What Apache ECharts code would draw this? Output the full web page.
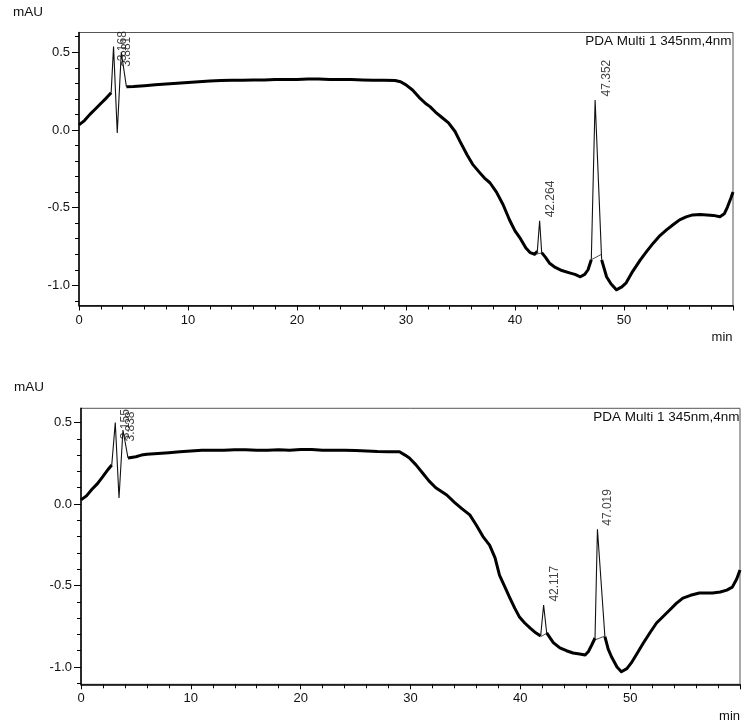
<!DOCTYPE html>
<html><head><meta charset="utf-8">
<script src="https://cdn.jsdelivr.net/npm/echarts@6/dist/echarts.min.js"></script>
<style>html,body{margin:0;padding:0;background:#fff}#c{width:750px;height:726px}</style>
</head><body><div id="c"></div>
<script>
// ---------- DATA ----------
const timeTop = [0.0,0.5,1.0,1.5,2.0,2.5,2.95,3.17,3.51,3.88,4.35,5,6,7,8,9,10,11,12,13,14,15,16,17,18,19,20,21,22,23,24,25,26,27,28,29,29.5,30.0,30.6,31.2,31.8,32.2,32.7,33.3,33.9,34.5,35.0,35.6,36.1,36.7,37.2,37.7,38.3,38.9,39.5,40.0,40.5,41.0,41.4,41.8,42.05,42.26,42.45,42.8,43.2,43.7,44.3,45.0,45.5,46.0,46.4,46.7,47.0,47.35,47.95,48.4,48.8,49.3,49.8,50.2,50.8,51.5,52.1,52.7,53.3,53.9,54.5,55.1,55.7,56.3,57.0,57.6,58.2,58.8,59.2,59.5,59.8,60.0];
const valueTop = [0.032,0.06,0.10,0.135,0.17,0.205,0.24,0.536,-0.019,0.50,0.278,0.28,0.285,0.29,0.295,0.30,0.305,0.31,0.315,0.318,0.32,0.32,0.322,0.322,0.325,0.325,0.325,0.328,0.328,0.325,0.325,0.325,0.322,0.32,0.32,0.318,0.31,0.29,0.257,0.21,0.17,0.15,0.115,0.08,0.045,-0.01,-0.08,-0.16,-0.22,-0.27,-0.31,-0.34,-0.40,-0.48,-0.58,-0.65,-0.70,-0.76,-0.79,-0.80,-0.78,-0.585,-0.79,-0.82,-0.86,-0.885,-0.905,-0.92,-0.93,-0.945,-0.93,-0.90,-0.835,0.193,-0.836,-0.945,-0.99,-1.029,-1.01,-0.984,-0.91,-0.836,-0.78,-0.727,-0.68,-0.643,-0.61,-0.579,-0.56,-0.547,-0.545,-0.547,-0.55,-0.559,-0.54,-0.495,-0.44,-0.40];

const timeBottom = [0.0,0.5,1.0,1.5,2.0,2.5,2.8,3.12,3.46,3.82,4.28,5.0,5.5,6,7,8,9,10,11,12,13,14,15,16,17,18,19,20,21,22,23,24,25,26,27,28,29,29.5,29.9,30.5,31.1,31.7,32.3,33.3,34.0,34.7,35.4,36.0,36.6,37.2,37.7,38.1,38.6,39.0,39.5,39.9,40.4,40.9,41.4,41.85,42.12,42.4,43.0,43.6,44.2,44.8,45.4,45.9,46.2,46.5,46.8,47.02,47.7,48.0,48.3,48.8,49.2,49.7,50.1,50.6,51.2,51.8,52.4,53.0,53.6,54.2,54.8,55.5,56.3,56.9,57.5,58.2,58.8,59.3,59.7,60.0];
const valueBottom = [0.025,0.05,0.09,0.125,0.17,0.215,0.239,0.499,0.037,0.454,0.282,0.29,0.30,0.305,0.31,0.315,0.32,0.325,0.33,0.33,0.33,0.332,0.332,0.33,0.33,0.332,0.33,0.335,0.335,0.33,0.33,0.33,0.328,0.325,0.322,0.321,0.32,0.30,0.282,0.24,0.19,0.14,0.10,0.055,0.01,-0.03,-0.067,-0.13,-0.20,-0.252,-0.33,-0.436,-0.51,-0.569,-0.64,-0.691,-0.73,-0.761,-0.79,-0.81,-0.62,-0.791,-0.85,-0.883,-0.90,-0.914,-0.92,-0.926,-0.905,-0.865,-0.822,-0.155,-0.814,-0.89,-0.937,-1.00,-1.029,-1.01,-0.975,-0.92,-0.853,-0.79,-0.73,-0.69,-0.65,-0.61,-0.577,-0.56,-0.546,-0.546,-0.546,-0.54,-0.528,-0.51,-0.46,-0.405];

const peakNamesTop = ['3.168','3.881','42.264','47.352'];
const peakTimesTop = [3.17,3.88,42.26,47.35];
const peakHeightsTop = [0.536,0.50,-0.585,0.193];
const peakNamesBottom = ['3.155','3.838','42.117','47.019'];
const peakTimesBottom = [3.12,3.82,42.12,47.02];
const peakHeightsBottom = [0.499,0.454,-0.62,-0.155];

// integration baselines under peaks: [t1, v1, t2, v2]
const baselinesTop = [[41.95,-0.80,42.5,-0.79],[47.0,-0.835,47.95,-0.80]];
const baselinesBottom = [[41.85,-0.814,42.4,-0.793],[46.8,-0.834,47.7,-0.81]];

const xTickLabels = [0,10,20,30,40,50];
const yTickLabels = [-1.0,-0.5,0.0,0.5];
const yMinorTicks = [-1.1,-0.9,-0.8,-0.7,-0.6,-0.4,-0.3,-0.2,-0.1,0.1,0.2,0.3,0.4,0.6];

// ---------- STYLE ----------
const spikeWindowsTop = [[2.95,4.35],[42.05,42.45],[47.0,47.95]];
const spikeWindowsBottom = [[2.8,4.28],[41.85,42.4],[46.8,47.7]];
const labelOffsetsTop = [[10,15],[6,15],[12,-3],[12,-3]];
const labelOffsetsBottom = [[11,17],[8,12],[12,-3],[11,-3]];
const FONT = '"Liberation Sans", Arial, sans-serif';
const rangeTop = {min:-1.13, max:0.627};
const rangeBottom = {min:-1.106, max:0.587};

function splitTrace(ts, vs, wins){
  const thick=[], thin=[];
  ts.forEach((t,i)=>{
    const interior = wins.some(w=>t>w[0] && t<w[1]);
    const inside = wins.some(w=>t>=w[0] && t<=w[1]);
    thick.push([t, interior ? '-' : vs[i]]);
    thin.push([t, inside ? vs[i] : '-']);
  });
  return {thick, thin};
}

function buildGridParts(gi, ts, vs, wins, names, pts, phs, offs, bases, range){
  const s = splitTrace(ts, vs, wins);
  const series = [];
  series.push({type:'line', xAxisIndex:gi, yAxisIndex:gi*2, data:s.thick, symbol:'none', connectNulls:false, silent:true,
    lineStyle:{color:'#000', width:3, join:'round'}});
  series.push({type:'line', xAxisIndex:gi, yAxisIndex:gi*2, data:s.thin, symbol:'none', connectNulls:false, silent:true,
    lineStyle:{color:'#111', width:1.1}});
  bases.forEach(b=>{
    series.push({type:'line', xAxisIndex:gi, yAxisIndex:gi*2, data:[[b[0],b[1]],[b[2],b[3]]], symbol:'none', silent:true,
      lineStyle:{color:'#222', width:0.8}});
  });
  series.push({type:'scatter', xAxisIndex:gi, yAxisIndex:gi*2, symbolSize:1, itemStyle:{color:'rgba(0,0,0,0)'}, silent:true, z:5,
    data: names.map((n,i)=>({value:[pts[i], phs[i]], name:n,
      label:{show:true, formatter:n, rotate:90, align:'left', verticalAlign:'middle',
        position:[offs[i][0], offs[i][1]], fontSize:12, fontFamily:FONT, color:'#111'}}))});
  const yMain = {type:'value', gridIndex:gi, min:range.min, max:range.max, position:'left',
    axisLine:{show:true, onZero:false, lineStyle:{color:'#000', width:1.5}},
    axisTick:{show:true, length:7, customValues:yTickLabels, lineStyle:{color:'#000', width:1}},
    axisLabel:{customValues:yTickLabels, formatter:v=>Number(v).toFixed(1), color:'#111', fontSize:13, fontFamily:FONT, margin:9},
    splitLine:{show:false}};
  const yMinor = {type:'value', gridIndex:gi, min:range.min, max:range.max, position:'left',
    axisLine:{show:false},
    axisTick:{show:true, length:4, customValues:yMinorTicks.filter(v=>v>=range.min && v<=range.max), lineStyle:{color:'#000', width:1}},
    axisLabel:{show:false}, splitLine:{show:false}};
  const x = {type:'value', gridIndex:gi, min:0, max:60, interval:10,
    axisLine:{show:true, onZero:false, lineStyle:{color:'#000', width:1.5}},
    axisTick:{show:true, length:5, lineStyle:{color:'#000', width:1}},
    minorTick:{show:true, splitNumber:5, length:4, lineStyle:{color:'#000', width:1}},
    axisLabel:{customValues:xTickLabels, color:'#111', fontSize:13, fontFamily:FONT, margin:8},
    splitLine:{show:false}, minorSplitLine:{show:false}};
  return {series, yAxes:[yMain, yMinor], x};
}

const pTop = buildGridParts(0, timeTop, valueTop, spikeWindowsTop, peakNamesTop, peakTimesTop, peakHeightsTop, labelOffsetsTop, baselinesTop, rangeTop);
const pBot = buildGridParts(1, timeBottom, valueBottom, spikeWindowsBottom, peakNamesBottom, peakTimesBottom, peakHeightsBottom, labelOffsetsBottom, baselinesBottom, rangeBottom);

const txt = (x, y, text, align, size) => ({type:'text', x, y, style:{text, fill:'#111', font:`${size}px ${FONT}`, textAlign:align, textVerticalAlign:'middle'}});

const chart = echarts.init(document.getElementById('c'), null, {renderer:'canvas'});
chart.setOption({
  animation:false,
  backgroundColor:'#fff',
  grid:[
    {left:79, top:32.5, width:654, height:273, show:true, borderColor:'#555', borderWidth:1, backgroundColor:'transparent'},
    {left:81, top:408.3, width:659, height:276, show:true, borderColor:'#555', borderWidth:1, backgroundColor:'transparent'}
  ],
  xAxis:[pTop.x, pBot.x],
  yAxis:[...pTop.yAxes, ...pBot.yAxes],
  series:[...pTop.series, ...pBot.series],
  graphic:[
    txt(13, 12, 'mAU', 'left', 13.5),
    txt(14, 387, 'mAU', 'left', 13.5),
    txt(732.5, 337, 'min', 'right', 13),
    txt(740, 716, 'min', 'right', 13),
    txt(731.5, 41, 'PDA Multi 1 345nm,4nm', 'right', 13.5),
    txt(739.5, 417, 'PDA Multi 1 345nm,4nm', 'right', 13.5)
  ]
});
</script></body></html>
